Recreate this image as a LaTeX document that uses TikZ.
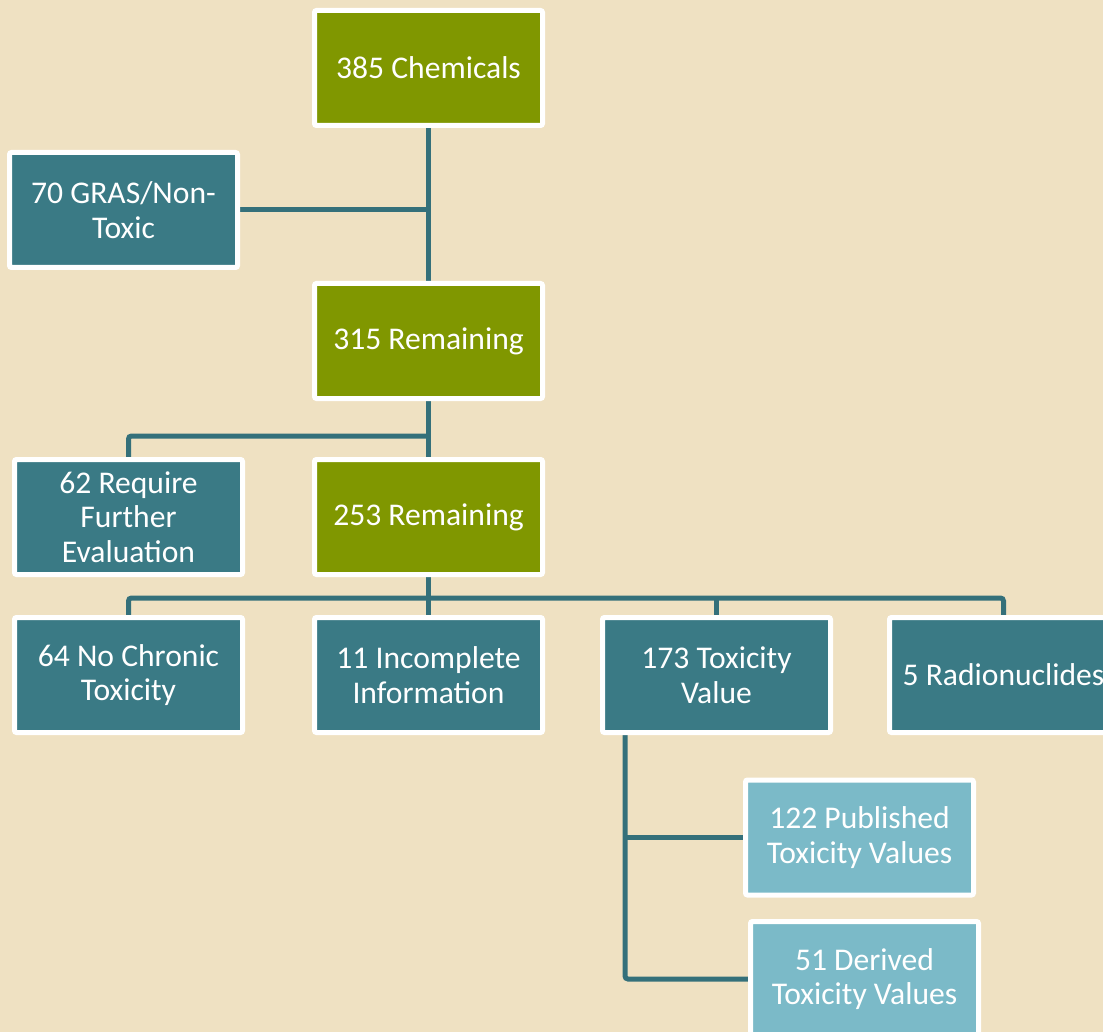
\documentclass[tikz,border=0pt]{standalone}
\usepackage{fontspec}
\setmainfont{Carlito}
\usetikzlibrary{calc}
\pgfdeclarelayer{bg}
\pgfdeclarelayer{lines}
\pgfsetlayers{bg,lines,main}
\definecolor{bgc}{RGB}{239,225,194}
\definecolor{greenc}{RGB}{128,151,0}
\definecolor{tealc}{RGB}{58,122,133}
\definecolor{lightc}{RGB}{123,186,200}
\definecolor{linec}{RGB}{52,112,122}
\tikzset{
  box/.style={draw=white, line width=5pt, rounded corners=2pt, minimum width=228pt, minimum height=115pt,
    text=white, align=center, inner sep=0pt, font=\fontsize{31.6}{34.5}\selectfont},
  gbox/.style={box, fill=greenc},
  tbox/.style={box, fill=tealc},
  lbox/.style={box, fill=lightc},
  conn/.style={draw=linec, line width=5pt, rounded corners=3pt}
}
\begin{document}
\begin{tikzpicture}[x=1pt,y=-1pt]
\useasboundingbox (0,0) rectangle (1103,1032);
\clip (0,0) rectangle (1103,1032);
\begin{pgfonlayer}{bg}
\fill[bgc] (0,0) rectangle (1103,1032);
\end{pgfonlayer}
\node[gbox] (c385) at (428.5,68) {385 Chemicals};
\node[tbox] (gras) at (123.5,210) {70 GRAS/Non-\\Toxic};
\node[gbox] (r315) at (428.5,341) {315 Remaining};
\node[tbox] (req) at (128.5,517) {62 Require\\Further\\Evaluation};
\node[gbox] (r253) at (428.5,517) {253 Remaining};
\node[tbox] (noch) at (128.5,675) {64 No Chronic\\Toxicity};
\node[tbox] (inc) at (428.5,675) {11 Incomplete\\Information};
\node[tbox] (tox) at (716.5,675) {173 Toxicity\\Value};
\node[tbox] (rad) at (1003.5,675) {5 Radionuclides};
\node[lbox] (pub) at (859.5,837.5) {122 Published\\Toxicity Values};
\node[lbox] (der) at (864.5,979) {51 Derived\\Toxicity Values};
\begin{pgfonlayer}{lines}
\draw[conn] (c385.south) -- (r315.north);
\draw[conn] (gras.east) -- (c385.south |- gras.east);
\coordinate (j1) at ($(r315.south)+(0,35)$);
\draw[conn] (r315.south) -- (r253.north);
\draw[conn] (j1) -| (req.north);
\coordinate (j2) at ($(r253.south)+(0,21)$);
\draw[conn] (r253.south) -- (j2);
\draw[conn] (noch.north) |- (j2) -| (rad.north);
\draw[conn] (j2) -- (inc.north);
\draw[conn] (tox.north) -- (tox.north |- j2);
\coordinate (t0) at ($(tox.south west)+(25,0)$);
\draw[conn] (t0) |- (der.west);
\draw[conn] (pub.west) -- (t0 |- pub.west);
\end{pgfonlayer}
\end{tikzpicture}
\end{document}
